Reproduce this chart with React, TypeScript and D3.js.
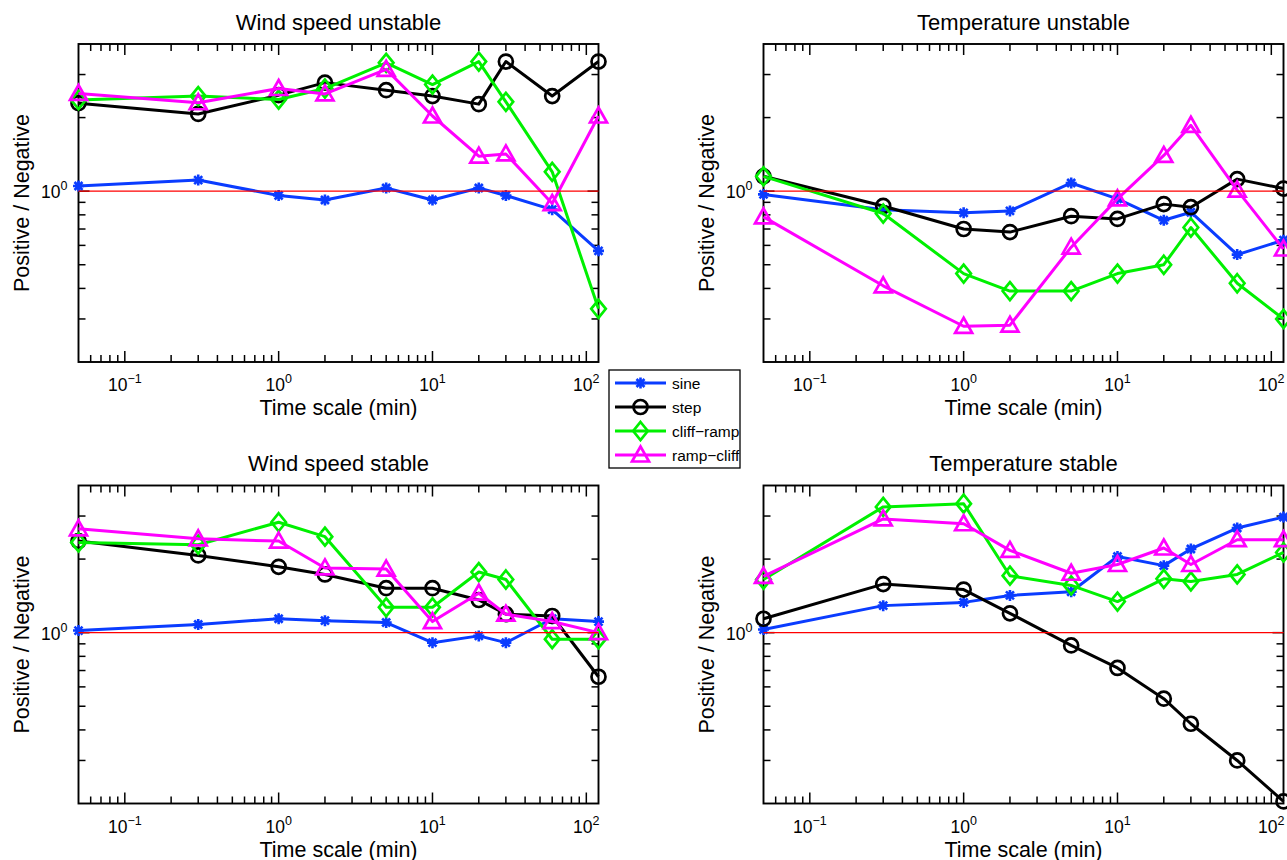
import React from "react";
import * as d3 from "d3";

// ---------- data ----------
const timeScales = [0.05, 0.3, 1, 2, 5, 10, 20, 30, 60, 120];
const seriesNames = ["sine", "step", "cliff−ramp", "ramp−cliff"];
const seriesColors = ["#0a3cff", "#000000", "#00f000", "#ff00ff"];
const seriesMarkers = ["asterisk", "circle", "diamond", "triangle"];

const xTickValues = [0.1, 1, 10, 100];
const xTickExponents = ["−1", "0", "1", "2"];
const yTickValues = [1];
const yTickExponents = ["0"];

const panelTitles = ["Wind speed unstable", "Temperature unstable", "Wind speed stable", "Temperature stable"];

// Wind speed unstable
const wsuSine = [1.05, 1.11, 0.96, 0.92, 1.03, 0.92, 1.03, 0.96, 0.84, 0.57];
const wsuStep = [2.29, 2.07, 2.47, 2.78, 2.59, 2.45, 2.27, 3.39, 2.45, 3.39];
const wsuCliffRamp = [2.36, 2.45, 2.37, 2.63, 3.35, 2.73, 3.39, 2.32, 1.2, 0.33];
const wsuRampCliff = [2.51, 2.3, 2.63, 2.5, 3.15, 2.03, 1.39, 1.42, 0.89, 2.03];

// Temperature unstable
const tuSine = [0.97, 0.84, 0.815, 0.83, 1.08, 0.93, 0.76, 0.82, 0.55, 0.63];
const tuStep = [1.15, 0.87, 0.7, 0.68, 0.79, 0.77, 0.885, 0.86, 1.12, 1.025];
const tuCliffRamp = [1.15, 0.81, 0.46, 0.39, 0.39, 0.46, 0.5, 0.71, 0.42, 0.3];
const tuRampCliff = [0.785, 0.41, 0.28, 0.283, 0.59, 0.93, 1.4, 1.86, 1.01, 0.58];

// Wind speed stable
const wssSine = [1.02, 1.08, 1.14, 1.12, 1.1, 0.91, 0.97, 0.91, 1.14, 1.11];
const wssStep = [2.37, 2.07, 1.86, 1.73, 1.52, 1.52, 1.36, 1.19, 1.17, 0.66];
const wssCliffRamp = [2.34, 2.29, 2.83, 2.47, 1.27, 1.27, 1.77, 1.65, 0.94, 0.94];
const wssRampCliff = [2.66, 2.42, 2.37, 1.84, 1.82, 1.11, 1.45, 1.19, 1.11, 1.0];

// Temperature stable
const tsSine = [1.03, 1.29, 1.33, 1.42, 1.47, 2.05, 1.88, 2.2, 2.68, 2.97];
const tsStep = [1.14, 1.58, 1.5, 1.2, 0.887, 0.717, 0.537, 0.424, 0.3, 0.204];
const tsCliffRamp = [1.65, 3.27, 3.37, 1.71, 1.56, 1.34, 1.66, 1.62, 1.73, 2.13];
const tsRampCliff = [1.7, 2.92, 2.79, 2.17, 1.75, 1.9, 2.22, 1.9, 2.4, 2.4];

const panelData = [
  [wsuSine, wsuStep, wsuCliffRamp, wsuRampCliff],
  [tuSine, tuStep, tuCliffRamp, tuRampCliff],
  [wssSine, wssStep, wssCliffRamp, wssRampCliff],
  [tsSine, tsStep, tsCliffRamp, tsRampCliff],
];

// ---------- layout ----------
const W = 1287;
const H = 860;
const PW = 520;
const PH = 318;
const panelOrigins = [
  [78.5, 44],
  [763.5, 44],
  [78.5, 485.5],
  [763.5, 485.5],
];
const FONT = "'Liberation Sans', Arial, Helvetica, sans-serif";
const MAJOR = 11;
const MINOR = 7;

function minorTicks(lo: number, hi: number) {
  const out: number[] = [];
  for (let e = -3; e <= 3; e++) {
    const d = Math.pow(10, e);
    for (let k = 2; k <= 9; k++) {
      const v = k * d;
      if (v > lo * 1.0001 && v < hi * 0.9999) out.push(v);
    }
  }
  return out;
}

function Marker({ type, color }: { type: string; color: string }) {
  const sw = 2.7;
  if (type === "circle") return <circle r={7} fill="none" stroke={color} strokeWidth={sw} />;
  if (type === "diamond")
    return <path d="M0,-9L7.3,0L0,9L-7.3,0Z" fill="none" stroke={color} strokeWidth={sw} strokeLinejoin="miter" />;
  if (type === "triangle")
    return <path d="M0,-8.5L8.5,6.5L-8.5,6.5Z" fill="none" stroke={color} strokeWidth={sw} strokeLinejoin="miter" />;
  return (
    <path
      d="M-5.5,0H5.5M0,-5.5V5.5M-4,-4L4,4M-4,4L4,-4"
      fill="none"
      stroke={color}
      strokeWidth={2.6}
      strokeLinecap="butt"
    />
  );
}

function Panel({ idx }: { idx: number }) {
  const [x0, y0] = panelOrigins[idx];
  const x = d3.scaleLog().domain([0.05, 120]).range([x0, x0 + PW]);
  const y = d3.scaleLog().domain([0.2, 4]).range([y0 + PH, y0]);
  const xMinor = minorTicks(0.05, 120);
  const yMinor = minorTicks(0.2, 4);
  const data = panelData[idx];
  const line = d3
    .line<number>()
    .x((_, i) => x(timeScales[i]))
    .y((d) => y(d));
  return (
    <g>
      <text x={x0 + PW / 2} y={y0 - 14.5} textAnchor="middle" fontSize={22} fontFamily={FONT}>
        {panelTitles[idx]}
      </text>
      {/* box */}
      <rect x={x0} y={y0} width={PW} height={PH} fill="white" stroke="black" strokeWidth={1.9} />
      {/* x ticks */}
      {xTickValues.map((v) => (
        <g key={"xM" + v}>
          <line x1={x(v)} x2={x(v)} y1={y0 + PH} y2={y0 + PH - MAJOR} stroke="black" strokeWidth={1.5} />
          <line x1={x(v)} x2={x(v)} y1={y0} y2={y0 + MAJOR} stroke="black" strokeWidth={1.5} />
        </g>
      ))}
      {xMinor.map((v) => (
        <g key={"xm" + v}>
          <line x1={x(v)} x2={x(v)} y1={y0 + PH} y2={y0 + PH - MINOR} stroke="black" strokeWidth={1.5} />
          <line x1={x(v)} x2={x(v)} y1={y0} y2={y0 + MINOR} stroke="black" strokeWidth={1.5} />
        </g>
      ))}
      {/* y ticks */}
      {yTickValues.map((v) => (
        <g key={"yM" + v}>
          <line x1={x0} x2={x0 + MAJOR} y1={y(v)} y2={y(v)} stroke="black" strokeWidth={1.5} />
          <line x1={x0 + PW} x2={x0 + PW - MAJOR} y1={y(v)} y2={y(v)} stroke="black" strokeWidth={1.5} />
        </g>
      ))}
      {yMinor.map((v) => (
        <g key={"ym" + v}>
          <line x1={x0} x2={x0 + MINOR} y1={y(v)} y2={y(v)} stroke="black" strokeWidth={1.5} />
          <line x1={x0 + PW} x2={x0 + PW - MINOR} y1={y(v)} y2={y(v)} stroke="black" strokeWidth={1.5} />
        </g>
      ))}
      {/* x tick labels */}
      {xTickValues.map((v, i) => (
        <text key={"xl" + v} x={x(v)} y={y0 + PH + 29} textAnchor="middle" fontSize={17.5} fontFamily={FONT}>
          10
          <tspan dy={-8} fontSize={12.5}>
            {xTickExponents[i]}
          </tspan>
        </text>
      ))}
      {/* y tick labels */}
      {yTickValues.map((v, i) => (
        <text key={"yl" + v} x={x0 - 11} y={y(v) + 7} textAnchor="end" fontSize={17.5} fontFamily={FONT}>
          10
          <tspan dy={-8} fontSize={12.5}>
            {yTickExponents[i]}
          </tspan>
        </text>
      ))}
      {/* axis labels */}
      <text x={x0 + PW / 2} y={y0 + PH + 53} textAnchor="middle" fontSize={21.5} fontFamily={FONT}>
        Time scale (min)
      </text>
      <text
        transform={`translate(${x0 - 50},${y0 + PH / 2}) rotate(-90)`}
        textAnchor="middle"
        fontSize={21.5}
        fontFamily={FONT}
      >
        Positive / Negative
      </text>
      {/* series */}
      {data.map((vals, si) => (
        <g key={"s" + si}>
          <path d={line(vals) || ""} fill="none" stroke={seriesColors[si]} strokeWidth={3} strokeLinejoin="round" />
          {vals.map((v, i) => (
            <g key={i} transform={`translate(${x(timeScales[i])},${y(v)})`}>
              <Marker type={seriesMarkers[si]} color={seriesColors[si]} />
            </g>
          ))}
        </g>
      ))}
      {/* reference line at 1 */}
      <line x1={x(0.05)} x2={x(120)} y1={y(1)} y2={y(1)} stroke="#ff0000" strokeWidth={1.4} />
    </g>
  );
}

function Legend() {
  const lx = 609;
  const ly = 370;
  const rowH = 24;
  return (
    <g>
      <rect x={lx} y={ly} width={131} height={98} fill="white" stroke="black" strokeWidth={1.3} />
      {seriesNames.map((name, i) => {
        const cy = ly + 13 + i * rowH;
        return (
          <g key={name}>
            <line x1={lx + 6} x2={lx + 57} y1={cy} y2={cy} stroke={seriesColors[i]} strokeWidth={3} />
            <g transform={`translate(${lx + 31.5},${cy})`}>
              <Marker type={seriesMarkers[i]} color={seriesColors[i]} />
            </g>
            <text x={lx + 63} y={cy + 5.5} fontSize={15.5} fontFamily={FONT}>
              {name}
            </text>
          </g>
        );
      })}
    </g>
  );
}

export default function App() {
  return (
    <svg
      width={W}
      height={H}
      style={{ position: "absolute", left: 0, top: 0, display: "block", background: "white" }}
    >
      <rect x={0} y={0} width={W} height={H} fill="white" />
      {[0, 1, 2, 3].map((i) => (
        <Panel key={i} idx={i} />
      ))}
      <Legend />
    </svg>
  );
}
